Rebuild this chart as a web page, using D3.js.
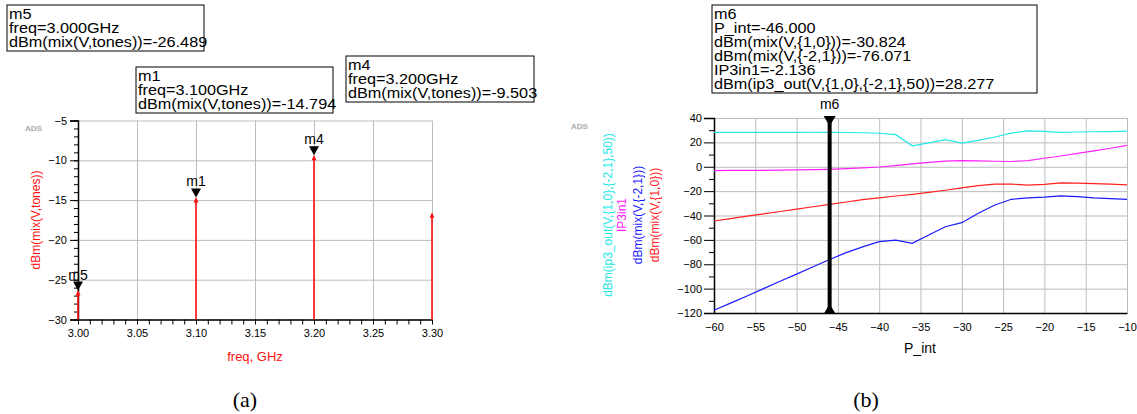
<!DOCTYPE html>
<html>
<head>
<meta charset="utf-8">
<script src="https://cdn.jsdelivr.net/npm/d3@7"></script>
<style>
  body { margin: 0; background: #fff; }
  svg { font-family: "Liberation Sans", Arial, sans-serif; }
  .grid line { stroke: #bdbdbd; stroke-width: 1; }
  .grid path { display: none; }
  .axis path, .axis line { stroke: #000; }
  .axis text { font-size: 11px; fill: #000; }
</style>
</head>
<body>
<svg id="chart"></svg>
<script>
// Chart (a): spectrum of the mixer output
const freqs = [3.00, 3.10, 3.20, 3.30];
const toneDbm = [-26.489, -14.794, -9.503, -16.7];
const freqTicks = [3.00, 3.05, 3.10, 3.15, 3.20, 3.25, 3.30];
const toneTicks = [-30, -25, -20, -15, -10, -5];
const toneMarkers = [
  { name: 'm5', index: 0, box: [7, 5, 197] },
  { name: 'm1', index: 1, box: [136, 67, 197] },
  { name: 'm4', index: 2, box: [346, 56, 188] }
];

// Chart (b): sweep over input power
const pInt = [-60, -58, -56, -54, -52, -50, -48, -46, -44, -42, -40, -38, -36,
  -34, -32, -30, -28, -26, -24, -22, -20, -18, -16, -14, -12, -10];
const ip3Out = [28.2, 28.2, 28.2, 28.2, 28.2, 28.2, 28.3, 28.277, 28.1, 27.9, 27.5, 26.3, 17.2,
  19.6, 22.2, 19.4, 21.6, 24.4, 27.6, 29.5, 29.1, 28.2, 28.5, 28.7, 28.9, 29.2];
const ip3In = [-3.1, -3.0, -3.0, -2.9, -2.8, -2.6, -2.4, -2.136, -1.6, -0.9, -0.2, 1.0, 2.4,
  3.6, 4.6, 5.1, 4.9, 4.5, 4.3, 5.0, 7.0, 8.8, 10.9, 13.0, 15.2, 17.5];
const fund = [-44.5, -42.5, -40.5, -38.6, -36.7, -34.7, -32.8, -30.824, -28.9, -27.0, -25.5, -24.0, -22.6,
  -21.0, -19.3, -17.3, -15.5, -14.2, -14.3, -15.0, -14.5, -13.3, -13.5, -13.9, -14.3, -14.8];
const im3 = [-117.8, -111.9, -106.0, -100.0, -94.0, -88.1, -82.0, -76.071, -70.5, -65.8, -61.5, -60.2, -62.9,
  -56.0, -49.2, -45.9, -38.2, -31.4, -26.7, -25.6, -25.0, -23.9, -24.5, -25.6, -26.1, -26.7];
const pTicks = [-60, -55, -50, -45, -40, -35, -30, -25, -20, -15, -10];
const dbTicks = [-120, -100, -80, -60, -40, -20, 0, 20, 40];
const markerP = -46;
const markerLines = ['m6', 'P_int=-46.000', 'dBm(mix(V,{1,0}))=-30.824', 'dBm(mix(V,{-2,1}))=-76.071',
  'IP3in1=-2.136', 'dBm(ip3_out(V,{1,0},{-2,1},50))=28.277'];

const series = [
  { name: 'dBm(ip3_out(V,{1,0},{-2,1},50))', values: ip3Out, color: '#22e8e8', labelX: 612 },
  { name: 'IP3in1', values: ip3In, color: '#ff22ff', labelX: 626 },
  { name: 'dBm(mix(V,{-2,1}))', values: im3, color: '#1a1aff', labelX: 642 },
  { name: 'dBm(mix(V,{1,0}))', values: fund, color: '#ff2020', labelX: 659 }
];

const width = 1137;
const height = 414;
const svg = d3.select('#chart').attr('width', width).attr('height', height);

// Marker readout box, text slightly stretched like the original
function readout(x, y, w, lines) {
  const g = svg.append('g');
  g.append('rect')
    .attr('x', x).attr('y', y).attr('width', w).attr('height', lines.length * 14 + 4)
    .attr('fill', '#fff').attr('stroke', '#000').attr('stroke-width', 1);
  lines.forEach((l, i) => {
    g.append('text')
      .attr('transform', `translate(${x + 2},${y + 14 + i * 14}) scale(1.12,1)`)
      .attr('font-size', 14.5)
      .text(l);
  });
}

function adsTag(x, y) {
  svg.append('text').attr('x', x).attr('y', y)
    .attr('font-size', 8).attr('font-weight', 'bold').attr('fill', '#aaa')
    .attr('stroke', '#ccc').attr('stroke-width', 0.3)
    .text('ADS');
}

// ---------- (a) ----------
const xa = d3.scaleLinear().domain([3.0, 3.3]).range([78, 432]);
const ya = d3.scaleLinear().domain([-30, -5]).range([319.5, 120.5]);

svg.append('g').attr('class', 'grid')
  .attr('transform', `translate(0,${ya(-30)})`)
  .call(d3.axisBottom(xa).tickValues(freqTicks).tickSize(-(ya(-30) - ya(-5))).tickFormat(''));
svg.append('g').attr('class', 'grid')
  .attr('transform', `translate(${xa(3.0)},0)`)
  .call(d3.axisLeft(ya).tickValues(toneTicks).tickSize(-(xa(3.3) - xa(3.0))).tickFormat(''));

// minor ticks
svg.append('g').attr('class', 'axis')
  .attr('transform', `translate(0,${ya(-30)})`)
  .call(d3.axisBottom(xa).tickValues(d3.range(0, 31).map(i => 3 + i * 0.01)).tickSize(5).tickFormat(''))
  .call(g => g.select('.domain').remove());
svg.append('g').attr('class', 'axis')
  .attr('transform', `translate(${xa(3.0)},0)`)
  .call(d3.axisLeft(ya).tickValues(d3.range(-30, -4)).tickSize(4).tickFormat(''))
  .call(g => g.select('.domain').remove());

svg.append('g').attr('class', 'axis')
  .attr('transform', `translate(0,${ya(-30)})`)
  .call(d3.axisBottom(xa).tickValues(freqTicks).tickSize(0).tickPadding(10).tickFormat(d3.format('.2f')))
  .call(g => g.select('.domain').attr('stroke-width', 1.5));
svg.append('g').attr('class', 'axis')
  .attr('transform', `translate(${xa(3.0)},0)`)
  .call(d3.axisLeft(ya).tickValues(toneTicks).tickSize(8).tickPadding(3).tickFormat(d3.format('d')))
  .call(g => g.select('.domain').attr('stroke-width', 1.5));

// stems
freqs.forEach((f, i) => {
  const top = Math.max(toneDbm[i], -30);
  svg.append('line')
    .attr('x1', xa(f)).attr('x2', xa(f))
    .attr('y1', ya(-30)).attr('y2', ya(top))
    .attr('stroke', '#ff1010').attr('stroke-width', 1.6);
  svg.append('path')
    .attr('d', `M${xa(f) - 2.5},${ya(top) + 4} L${xa(f) + 2.5},${ya(top) + 4} L${xa(f)},${ya(top) - 1} Z`)
    .attr('fill', '#ff1010');
});

toneMarkers.forEach(m => {
  const px = xa(freqs[m.index]);
  const py = ya(toneDbm[m.index]) - 1;
  svg.append('path')
    .attr('d', `M${px - 5},${py - 9} L${px + 5},${py - 9} L${px},${py} Z`)
    .attr('fill', '#000');
  svg.append('text').attr('x', px).attr('y', py - 11)
    .attr('text-anchor', 'middle').attr('font-size', 14).text(m.name);
  readout(m.box[0], m.box[1], m.box[2], [
    m.name,
    `freq=${freqs[m.index].toFixed(3)}GHz`,
    `dBm(mix(V,tones))=${toneDbm[m.index].toFixed(3)}`
  ]);
});

svg.append('text')
  .attr('transform', `translate(40,220) rotate(-90)`)
  .attr('text-anchor', 'middle').attr('font-size', 12).attr('fill', '#ff1010')
  .text('dBm(mix(V,tones))');
svg.append('text').attr('x', 255).attr('y', 361)
  .attr('text-anchor', 'middle').attr('font-size', 13).attr('fill', '#ff1010')
  .text('freq, GHz');
adsTag(25, 131);

// ---------- (b) ----------
const xb = d3.scaleLinear().domain([-60, -10]).range([714, 1127]);
const yb = d3.scaleLinear().domain([-120, 40]).range([313, 118]);

svg.append('g').attr('class', 'grid')
  .attr('transform', `translate(0,${yb(-120)})`)
  .call(d3.axisBottom(xb).tickValues(pTicks).tickSize(-(yb(-120) - yb(40))).tickFormat(''));
svg.append('g').attr('class', 'grid')
  .attr('transform', `translate(${xb(-60)},0)`)
  .call(d3.axisLeft(yb).tickValues(dbTicks).tickSize(-(xb(-10) - xb(-60))).tickFormat(''));

svg.append('g').attr('class', 'axis')
  .attr('transform', `translate(${xb(-60)},0)`)
  .call(d3.axisLeft(yb).tickValues(d3.range(-110, 40, 20)).tickSize(5).tickFormat(''))
  .call(g => g.select('.domain').remove());
svg.append('g').attr('class', 'axis')
  .attr('transform', `translate(0,${yb(-120)})`)
  .call(d3.axisBottom(xb).tickValues(pTicks).tickSize(0).tickPadding(10).tickFormat(d3.format('d')))
  .call(g => g.select('.domain').attr('stroke-width', 1.5));
svg.append('g').attr('class', 'axis')
  .attr('transform', `translate(${xb(-60)},0)`)
  .call(d3.axisLeft(yb).tickValues(dbTicks).tickSize(10).tickPadding(2).tickFormat(d3.format('d')))
  .call(g => g.select('.domain').attr('stroke-width', 1.5));

const line = d3.line().x((d, i) => xb(pInt[i])).y(d => yb(d));
series.forEach(s => {
  svg.append('path').datum(s.values)
    .attr('d', line).attr('fill', 'none')
    .attr('stroke', s.color).attr('stroke-width', 1.2);
  svg.append('text')
    .attr('transform', `translate(${s.labelX},215) rotate(-90)`)
    .attr('text-anchor', 'middle').attr('font-size', 12).attr('fill', s.color)
    .text(s.name);
});

// m6 marker
const mx = xb(markerP);
svg.append('line').attr('x1', mx).attr('x2', mx).attr('y1', yb(40)).attr('y2', yb(-120))
  .attr('stroke', '#000').attr('stroke-width', 4);
svg.append('path').attr('d', `M${mx - 6},${yb(40) - 2} L${mx + 6},${yb(40) - 2} L${mx},${yb(40) + 8} Z`).attr('fill', '#000');
svg.append('path').attr('d', `M${mx - 6},${yb(-120) + 1} L${mx + 6},${yb(-120) + 1} L${mx},${yb(-120) - 9} Z`).attr('fill', '#000');
svg.append('text').attr('x', mx).attr('y', 109)
  .attr('text-anchor', 'middle').attr('font-size', 14).text('m6');
readout(712, 5, 325, markerLines);

svg.append('text').attr('x', 920).attr('y', 353)
  .attr('text-anchor', 'middle').attr('font-size', 14).text('P_int');
adsTag(571, 129);

// captions
svg.append('text').attr('x', 245).attr('y', 407)
  .attr('text-anchor', 'middle').attr('font-family', '"Liberation Serif", "Times New Roman", serif')
  .attr('font-size', 22).text('(a)');
svg.append('text').attr('x', 866).attr('y', 407)
  .attr('text-anchor', 'middle').attr('font-family', '"Liberation Serif", "Times New Roman", serif')
  .attr('font-size', 22).text('(b)');
</script>
</body>
</html>
